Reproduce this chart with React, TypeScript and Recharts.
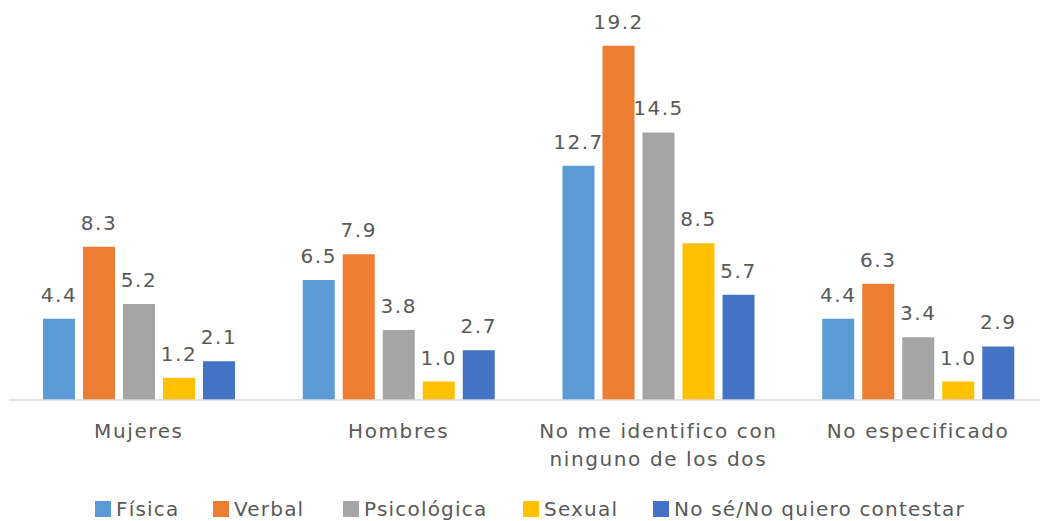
import React from "react";
import { BarChart, Bar, XAxis, YAxis, LabelList, Legend } from "recharts";

const categories = ["Mujeres", "Hombres", "No me identifico con\nninguno de los dos", "No especificado"];
const fisica = [4.4, 6.5, 12.7, 4.4];
const verbal = [8.3, 7.9, 19.2, 6.3];
const psicologica = [5.2, 3.8, 14.5, 3.4];
const sexual = [1.2, 1.0, 8.5, 1.0];
const noSe = [2.1, 2.7, 5.7, 2.9];

const seriesNames = ["Física", "Verbal", "Psicológica", "Sexual", "No sé/No quiero contestar"];
const seriesKeys = ["fisica", "verbal", "psicologica", "sexual", "noSe"];
const colors = ["#5B9BD5", "#ED7D31", "#A5A5A5", "#FFC000", "#4472C4"];

const data = categories.map((c, i) => ({
  name: c,
  fisica: fisica[i],
  verbal: verbal[i],
  psicologica: psicologica[i],
  sexual: sexual[i],
  noSe: noSe[i],
}));

const FONT = "'DejaVu Sans', sans-serif";
const TEXT = "#595959";
const legendLefts = [95, 213, 343, 523, 653];

const Tick = (props: any) => {
  const { x, y, payload } = props;
  const lines = String(payload.value).split("\n");
  return (
    <text x={x} y={y} textAnchor="middle" fill={TEXT} fontFamily={FONT} fontSize={20} letterSpacing={1.6}>
      {lines.map((l, i) => (
        <tspan key={i} x={x} dy={i === 0 ? 38 : 28}>
          {l}
        </tspan>
      ))}
    </text>
  );
};

const LegendContent = () => (
  <div
    style={{
      position: "relative",
      height: 24,
      fontFamily: FONT,
      fontSize: 20,
      lineHeight: "24px",
      letterSpacing: 1.2,
      color: TEXT,
      whiteSpace: "nowrap",
    }}
  >
    {seriesNames.map((n, i) => (
      <div
        key={n}
        style={{ position: "absolute", left: legendLefts[i], top: 0, display: "flex", alignItems: "center", height: 24 }}
      >
        <div style={{ width: 16, height: 16, background: colors[i], marginRight: 5 }} />
        <span>{n}</span>
      </div>
    ))}
  </div>
);

export default function App() {
  return (
    <div
      style={{
        position: "fixed",
        left: 0,
        top: 0,
        width: 1040,
        height: 521,
        overflow: "hidden",
        background: "#fff",
      }}
    >
      <BarChart
        width={1060}
        height={521}
        data={data}
        margin={{ top: 31, right: 12, left: 9, bottom: 0 }}
        barGap={8}
        barSize={32}
      >
        <XAxis
          dataKey="name"
          height={121}
          tickLine={false}
          tickSize={0}
          tickMargin={0}
          axisLine={{ stroke: "#D9D9D9", strokeWidth: 1.5 }}
          tick={<Tick />}
          interval={0}
        />
        <YAxis hide domain={[0, 20]} />
        <Legend
          verticalAlign="middle"
          layout="horizontal"
          content={<LegendContent />}
          wrapperStyle={{ top: 497, left: 0, width: 1040, height: 24 }}
        />
        {seriesKeys.map((k, i) => (
          <Bar key={k} dataKey={k} name={seriesNames[i]} fill={colors[i]} isAnimationActive={false}>
            <LabelList
              dataKey={k}
              position="top"
              offset={17}
              formatter={(v: any) => Number(v).toFixed(1)}
              fill={TEXT}
              fontFamily={FONT}
              fontSize={20}
              letterSpacing={1.5}
            />
          </Bar>
        ))}
      </BarChart>
    </div>
  );
}
